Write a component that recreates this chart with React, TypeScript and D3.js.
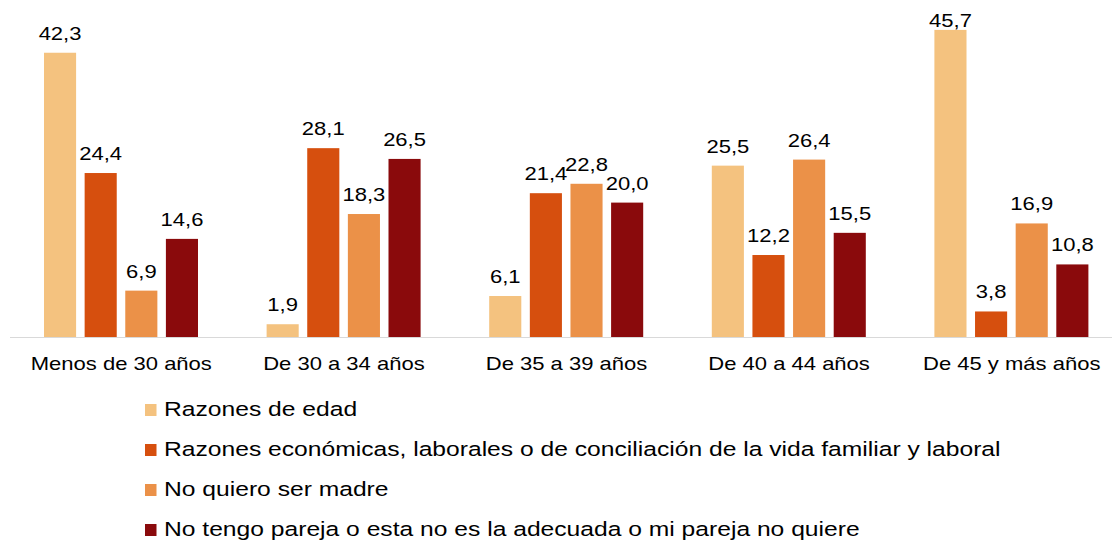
import React from "react";
import * as d3 from "d3";

const categories = ["Menos de 30 años", "De 30 a 34 años", "De 35 a 39 años", "De 40 a 44 años", "De 45 y más años"];
const seriesNames = [
  "Razones de edad",
  "Razones económicas, laborales o de conciliación de la vida familiar y laboral",
  "No quiero ser madre",
  "No tengo pareja o esta no es la adecuada o mi pareja no quiere",
];
const edad = [42.3, 1.9, 6.1, 25.5, 45.7];
const economicas = [24.4, 28.1, 21.4, 12.2, 3.8];
const noMadre = [6.9, 18.3, 22.8, 26.4, 16.9];
const noPareja = [14.6, 26.5, 20.0, 15.5, 10.8];
const seriesValues = [edad, economicas, noMadre, noPareja];
const colors = ["#F4C27F", "#D64F0E", "#EB9148", "#8A0A0C"];

const W = 1114;
const H = 543;
const FONT = "'Liberation Sans', Arial, sans-serif";
const FS = 18.5;
const LFS = 20.7;
const SX = 1.19;

const fmt = (v: number) => v.toFixed(1).replace(".", ",");

export default function App() {
  const x0 = d3.scaleBand<string>().domain(categories).range([10, 1123]).paddingInner(0).paddingOuter(0);
  const x1 = d3.scaleBand<number>().domain([0, 1, 2, 3]).range([34, 188]).paddingInner(0.21).paddingOuter(0);
  const y = d3.scaleLinear().domain([0, 50]).range([337, 1]);

  const Txt = ({ x, yy, anchor, size, children }: any) => (
    <g transform={`translate(${x},${yy}) scale(${SX},1)`}>
      <text x={0} y={0} textAnchor={anchor} fontFamily={FONT} fontSize={size || FS} fill="#000">
        {children}
      </text>
    </g>
  );

  return (
    <svg width={W} height={H} style={{ position: "absolute", left: 0, top: 0, background: "#fff" }}>
      <rect width={W} height={H} fill="#fff" />
      <line x1={10} x2={1112} y1={y(0) + 0.5} y2={y(0) + 0.5} stroke="#D9D9D9" strokeWidth={1} />
      {categories.map((c, ci) => (
        <g key={c}>
          {seriesValues.map((vals, si) => {
            const v = vals[ci];
            const bx = (x0(c) as number) + (x1(si) as number);
            const bw = x1.bandwidth();
            const top = y(v);
            const ly = Math.max(top - 13, 27);
            return (
              <g key={si}>
                <rect x={bx} y={top} width={bw} height={y(0) - top} fill={colors[si]} />
                <Txt x={bx + bw / 2} yy={ly} anchor="middle">{fmt(v)}</Txt>
              </g>
            );
          })}
          <Txt x={(x0(c) as number) + x0.bandwidth() / 2} yy={370} anchor="middle">{c}</Txt>
        </g>
      ))}
      {seriesNames.map((s, i) => {
        const base = 416 + i * 40;
        return (
          <g key={s}>
            <rect x={145} y={base - 12} width={11.5} height={12} fill={colors[i]} />
            <Txt x={164} yy={base} anchor="start" size={LFS}>{s}</Txt>
          </g>
        );
      })}
    </svg>
  );
}
